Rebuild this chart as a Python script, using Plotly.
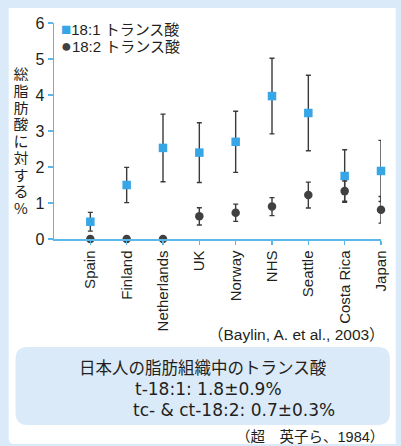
import plotly.graph_objects as go

categories = ["Spain", "Finland", "Netherlands", "UK", "Norway", "NHS", "Seattle", "Costa Rica", "Japan"]
t181 = [0.48, 1.50, 2.53, 2.40, 2.70, 3.97, 3.50, 1.75, 1.89]
t181_err = [0.26, 0.49, 0.94, 0.83, 0.85, 1.05, 1.05, 0.73, 0.85]
t182 = [0, 0, 0, 0.63, 0.73, 0.90, 1.22, 1.33, 0.81]
t182_err = [None, None, None, 0.24, 0.24, 0.25, 0.36, 0.28, 0.37]
y_ticks = [0, 1, 2, 3, 4, 5, 6]
legend_names = ["18:1 トランス酸", "18:2 トランス酸"]
y_title = "総脂肪酸に対する%"
source1 = "（Baylin, A. et al., 2003）"
source2 = "（超　英子ら、1984）"
box_lines = ["日本人の脂肪組織中のトランス酸", "t-18:1: 1.8±0.9%", "tc- & ct-18:2: 0.7±0.3%"]

W, H = 401, 446
L, R, T, B = 54, 15, 23, 207
PW, PH = W - L - R, H - T - B

def px(x):
    return (x - L) / PW

def py(y):
    return (T + PH - y) / PH

BLUE = "#36a6e6"
DARK = "#404040"
AXIS = "#5bb6ea"
BG = "#dbeaf8"
TXT = "#231f20"
LAT = "Liberation Sans, Arial, Noto Sans CJK JP, sans-serif"
CJK = "Noto Sans CJK JP, sans-serif"

fig = go.Figure()
fig.add_trace(go.Scatter(
    x=categories, y=t181, mode="markers", name=legend_names[0],
    marker=dict(symbol="square", size=8.5, color=BLUE),
    error_y=dict(type="data", array=t181_err, visible=True, color="#3a3a3a", thickness=1.4, width=2.5),
    cliponaxis=False, showlegend=False, hoverinfo="skip",
))
fig.add_trace(go.Scatter(
    x=categories, y=t182, mode="markers", name=legend_names[1],
    marker=dict(symbol="circle", size=8.5, color=DARK),
    error_y=dict(type="data", array=t182_err, visible=True, color="#3a3a3a", thickness=1.4, width=2.5),
    cliponaxis=False, showlegend=False, hoverinfo="skip",
))

shapes = []
# white panel with rounded bottom-left corner
r = 6
shapes.append(dict(
    type="path", xref="paper", yref="paper", layer="below",
    path=(f"M {px(8)} {py(8)} L {px(401)} {py(8)} L {px(401)} {py(444)} "
          f"L {px(8 + r)} {py(444)} Q {px(8)} {py(444)} {px(8)} {py(444 - r)} Z"),
    fillcolor="white", line=dict(width=0),
))
# rounded blue box
x0, x1, y0, y1, rr = 15, 395, 347, 425, 12
shapes.append(dict(
    type="path", xref="paper", yref="paper", layer="below",
    path=(f"M {px(x0 + rr)} {py(y0)} L {px(x1 - rr)} {py(y0)} Q {px(x1)} {py(y0)} {px(x1)} {py(y0 + rr)} "
          f"L {px(x1)} {py(y1 - rr)} Q {px(x1)} {py(y1)} {px(x1 - rr)} {py(y1)} "
          f"L {px(x0 + rr)} {py(y1)} Q {px(x0)} {py(y1)} {px(x0)} {py(y1 - rr)} "
          f"L {px(x0)} {py(y0 + rr)} Q {px(x0)} {py(y0)} {px(x0 + rr)} {py(y0)} Z"),
    fillcolor=BG, line=dict(width=0),
))

ann = []
# legend as text
ann.append(dict(xref="paper", yref="paper", x=px(59), y=py(29), xanchor="left", yanchor="middle",
                text=f"<span style='color:{BLUE};font-size:17px'>■</span>{legend_names[0]}", showarrow=False,
                height=16, font=dict(family=LAT, size=15, color=TXT)))
ann.append(dict(xref="paper", yref="paper", x=px(59), y=py(46), xanchor="left", yanchor="middle",
                text=f"<span style='color:{DARK};font-size:18px'>●</span>{legend_names[1]}", showarrow=False,
                height=16, font=dict(family=LAT, size=15, color=TXT)))
# vertical y title, one character per row (tight pitch as in the reference)
for i, ch in enumerate(y_title):
    ann.append(dict(xref="paper", yref="paper", x=px(20.5), y=py(73 + i * 16.75), xanchor="center", yanchor="middle",
                    text=ch, showarrow=False, height=16, width=18,
                    font=dict(family=CJK, size=15, color=TXT)))
ann.append(dict(xref="paper", yref="paper", x=px(392), y=py(334), xanchor="right", yanchor="middle",
                text=source1, showarrow=False, font=dict(family=LAT, size=15.5, color=TXT)))
ann.append(dict(xref="paper", yref="paper", x=px(205), y=py(367), xanchor="center", yanchor="middle",
                text=box_lines[0], showarrow=False, font=dict(family=CJK, size=16.5, color=TXT)))
ann.append(dict(xref="paper", yref="paper", x=px(134), y=py(388.5), xanchor="left", yanchor="middle",
                text=box_lines[1], showarrow=False, height=19, font=dict(family="DejaVu Sans", size=17, color=TXT)))
ann.append(dict(xref="paper", yref="paper", x=px(132), y=py(409), xanchor="left", yanchor="middle",
                text=box_lines[2], showarrow=False, height=19, font=dict(family="DejaVu Sans", size=17, color=TXT)))
ann.append(dict(xref="paper", yref="paper", x=px(391), y=py(436), xanchor="right", yanchor="middle",
                text=source2, showarrow=False, font=dict(family=LAT, size=14.5, color=TXT)))

fig.update_layout(
    width=W, height=H,
    margin=dict(l=L, r=R, t=T, b=B, pad=0),
    paper_bgcolor=BG, plot_bgcolor="white",
    showlegend=False, hovermode=False,
    shapes=shapes, annotations=ann,
    xaxis=dict(
        type="category", categoryorder="array", categoryarray=categories,
        range=[-1, len(categories) - 1],
        showline=True, linecolor=AXIS, linewidth=1.5,
        ticks="outside", ticklen=4, tickcolor=AXIS, tickwidth=1.5,
        tickangle=-90, tickfont=dict(family=LAT, size=15, color=TXT),
        showgrid=False, zeroline=False, fixedrange=True,
    ),
    yaxis=dict(
        range=[0, 6], tickvals=y_ticks, ticktext=[str(v) for v in y_ticks],
        showline=True, linecolor=AXIS, linewidth=1.5,
        ticks="outside", ticklen=5, tickcolor=AXIS, tickwidth=1.5,
        tickfont=dict(family=LAT, size=16, color=TXT),
        showgrid=False, zeroline=False, fixedrange=True,
    ),
)

fig.write_html("out.html", config={"displayModeBar": False, "staticPlot": True},
               post_script="document.body.style.margin='0';document.body.style.overflow='hidden';")
